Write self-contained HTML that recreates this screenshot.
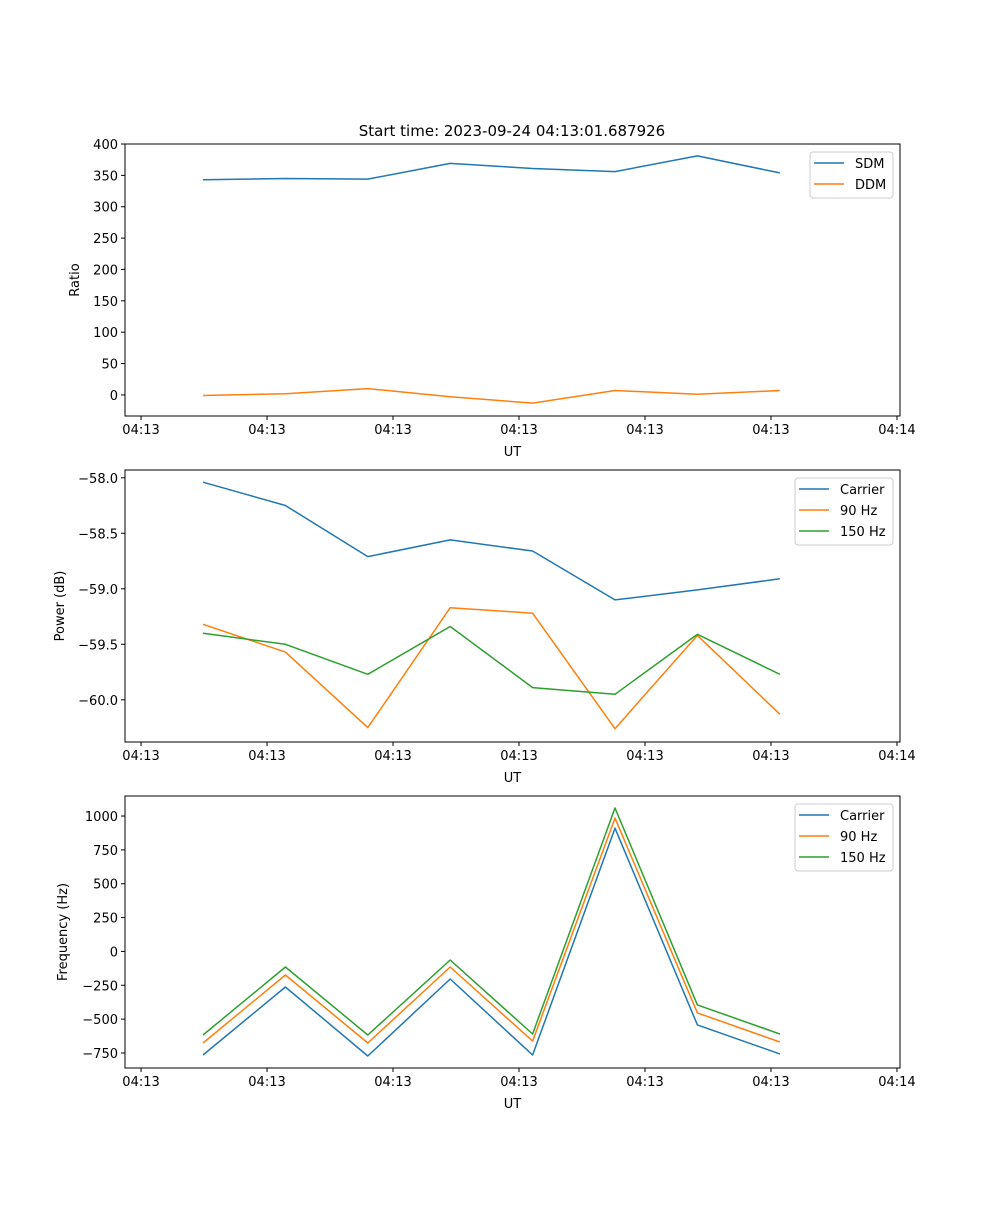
<!DOCTYPE html>
<html><head><meta charset="utf-8"><style>
body{margin:0;background:#fff}
svg text{font-family:"DejaVu Sans","Liberation Sans",sans-serif;fill:#000}
</style></head><body>
<svg id="chart" width="1000" height="1200" xmlns="http://www.w3.org/2000/svg">
<text x="512" y="136" font-size="15" text-anchor="middle">Start time: 2023-09-24 04:13:01.687926</text>
</svg>
<script>
const xTickIdx = [-0.752, 0.777, 2.306, 3.835, 5.364, 6.893, 8.422];
const xTickLabels = ["04:13","04:13","04:13","04:13","04:13","04:13","04:14"];
const idx = [0,1,2,3,4,5,6,7];
const sdm = [343,345,344,369,361,356,381,354];
const ddm = [-1,2,10,-3,-13,7,1,7];
const pCarrier = [-58.04,-58.25,-58.71,-58.56,-58.66,-59.10,-59.01,-58.91];
const p90 = [-59.32,-59.57,-60.25,-59.17,-59.22,-60.26,-59.42,-60.13];
const p150 = [-59.40,-59.50,-59.77,-59.34,-59.89,-59.95,-59.41,-59.77];
const fCarrier = [-765,-263,-772,-204,-765,910,-543,-757];
const f90 = [-676,-174,-676,-115,-662,985,-454,-669];
const f150 = [-617,-115,-617,-63,-610,1059,-395,-610];
const ratioTicks = [0,50,100,150,200,250,300,350,400];
const powerTicks = [-60.0,-59.5,-59.0,-58.5,-58.0];
const freqTicks = [-750,-500,-250,0,250,500,750,1000];

const NS="http://www.w3.org/2000/svg";
const svg=document.getElementById('chart');
function mk(tag,attrs,parent){const e=document.createElementNS(NS,tag);for(const k in attrs)e.setAttribute(k,attrs[k]);(parent||svg).appendChild(e);return e;}
const L=125,R=900;
function xs(i){return 203+82.4*i;}
const C={blue:'#1f77b4',orange:'#ff7f0e',green:'#2ca02c'};

function panel(name,top,bot,ymin,ymax,yticks,fmt,ylabel,ylx,series,legend){
  const g=mk('g',{});
  
  
  const ys=v=>bot-(v-ymin)/(ymax-ymin)*(bot-top);
  yticks.forEach(v=>{
    const y=ys(v);
    const t=mk('line',{x1:L-4,x2:L,y1:y,y2:y,stroke:'#000','stroke-width':1},g);
    
    
    const tx=mk('text',{x:L-7,y:y+5,'font-size':13,'text-anchor':'end'},g);
    
    
    tx.textContent=fmt(v);
  });
  xTickIdx.forEach((v,k)=>{
    const x=xs(v);
    const t=mk('line',{x1:x,x2:x,y1:bot,y2:bot+4,stroke:'#000','stroke-width':1},g);
    
    
    const tx=mk('text',{x:x,y:bot+18,'font-size':13,'text-anchor':'middle'},g);
    
    
    tx.textContent=xTickLabels[k];
  });
  const xl=mk('text',{x:(L+R)/2,y:bot+40,'font-size':13,'text-anchor':'middle'},g);
  
  
  xl.textContent='UT';
  const cy=(top+bot)/2;
  const yl=mk('text',{x:0,y:0,'font-size':13,'text-anchor':'middle',transform:`translate(${ylx},${cy}) rotate(-90)`},g);
  
  
  yl.textContent=ylabel;
  series.forEach(s=>{
    const pts=idx.map(i=>xs(i).toFixed(1)+','+ys(s.v[i]).toFixed(1)).join(' ');
    const p=mk('polyline',{points:pts,fill:'none',stroke:s.c,'stroke-width':1.5,'stroke-linejoin':'round'},g);
    
    
  });
  const fr=mk('rect',{x:L,y:top,width:R-L,height:bot-top,fill:'none',stroke:'#000','stroke-width':1},g);
  
  
  const lg=mk('g',{},g);
  
  
  mk('rect',{x:legend.x,y:top+8,width:legend.w,height:series.length*21+4,rx:3,fill:'#fff',stroke:'#ccc','stroke-width':1},lg);
  series.forEach((s,k)=>{
    const y=top+19+k*21;
    const e=mk('g',{},lg);
    
    
    mk('line',{x1:legend.x+4,x2:legend.x+34,y1:y,y2:y,stroke:s.c,'stroke-width':1.5},e);
    const t=mk('text',{x:legend.x+45,y:y+5,'font-size':13},e);
    t.textContent=s.label;
  });
}
panel('ratio',144,416,-33.6,400,ratioTicks,v=>String(v),'Ratio',79,
  [{n:'sdm',label:'SDM',c:C.blue,v:sdm},{n:'ddm',label:'DDM',c:C.orange,v:ddm}],{x:810,w:83});
panel('power',470,742,-60.38,-57.93,powerTicks,v=>'\u2212'+Math.abs(v).toFixed(1),'Power (dB)',64,
  [{n:'power-carrier',label:'Carrier',c:C.blue,v:pCarrier},{n:'power-90hz',label:'90 Hz',c:C.orange,v:p90},{n:'power-150hz',label:'150 Hz',c:C.green,v:p150}],{x:795,w:98});
panel('frequency',796,1068,-861,1148,freqTicks,v=>(v<0?'\u2212':'')+Math.abs(v),'Frequency (Hz)',67,
  [{n:'freq-carrier',label:'Carrier',c:C.blue,v:fCarrier},{n:'freq-90hz',label:'90 Hz',c:C.orange,v:f90},{n:'freq-150hz',label:'150 Hz',c:C.green,v:f150}],{x:795,w:98});
</script>
</body></html>
